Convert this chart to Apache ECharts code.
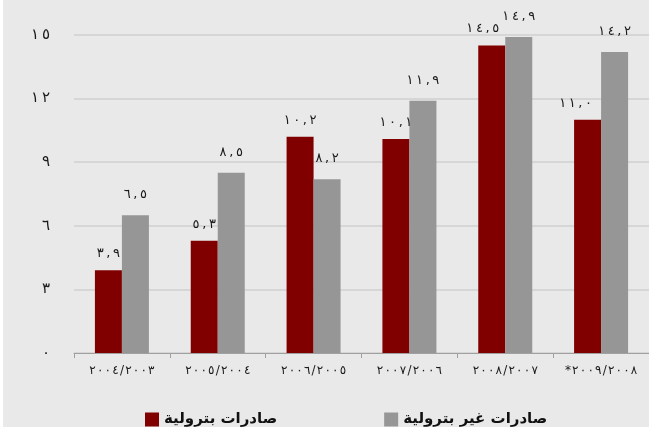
<!DOCTYPE html>
<html>
<head>
<meta charset="utf-8">
<script src="https://cdn.jsdelivr.net/npm/echarts@6/dist/echarts.min.js"></script>
<style>
  html, body { margin: 0; padding: 0; background: #ffffff; }
  #chart { position: absolute; left: 3px; top: 0; width: 646px; height: 427px; }
</style>
</head>
<body>
<div id="chart"></div>
<script>
// Data
var categories = ['٢٠٠٤/٢٠٠٣', '٢٠٠٥/٢٠٠٤', '٢٠٠٦/٢٠٠٥', '٢٠٠٧/٢٠٠٦', '٢٠٠٨/٢٠٠٧', '*٢٠٠٩/٢٠٠٨'];
var petroleumExports = [3.9, 5.3, 10.2, 10.1, 14.5, 11.0];
var nonPetroleumExports = [6.5, 8.5, 8.2, 11.9, 14.9, 14.2];
var seriesNames = ['صادرات بترولية', 'صادرات غير بترولية'];
var yTicks = [0, 3, 6, 9, 12, 15];

var LRM = '\u200E', HAIR = '\u200A', THIN = '\u2009';
function toArabicDigits(str) {
  var d = ['٠','١','٢','٣','٤','٥','٦','٧','٨','٩'];
  return String(str).replace(/[0-9]/g, function (c) { return d[+c]; }).replace('.', ',');
}
// insert spacing while keeping left-to-right visual order
function spaced(s, sp) { return LRM + s.split('').join(LRM + sp + LRM) + LRM; }
function fmtVal(v) { return spaced(toArabicDigits(v.toFixed(1)), THIN); }

// label nudges for overlapping labels (style only)
var petroLabelShift = { 4: -9, 5: -12 };

var chart = echarts.init(document.getElementById('chart'));
var labelBase = {
  show: true,
  position: 'top',
  distance: 10,
  color: '#1a1a1a',
  fontFamily: 'DejaVu Sans',
  fontSize: 13,
  formatter: function (p) { return fmtVal(p.value); }
};
var petroData = petroleumExports.map(function (v, i) {
  var item = { value: v };
  if (petroLabelShift[i] !== undefined) item.label = { offset: [petroLabelShift[i], 0] };
  return item;
});
chart.setOption({
  backgroundColor: '#e9e9e9',
  animation: false,
  grid: { left: 71, top: 35, width: 577, height: 318 },
  legend: {
    left: 137,
    top: 407,
    itemWidth: 14,
    itemHeight: 14,
    itemGap: 107,
    icon: 'rect',
    textStyle: { fontFamily: 'DejaVu Sans', fontWeight: 'bold', fontSize: 15, color: '#111' },
    data: seriesNames
  },
  xAxis: {
    type: 'category',
    data: categories,
    axisLine: { lineStyle: { color: '#a0a0a0', width: 1 } },
    axisTick: { show: true, length: 5, lineStyle: { color: '#a0a0a0' } },
    axisLabel: {
      color: '#1a1a1a', fontFamily: 'DejaVu Sans', fontSize: 12, margin: 12, interval: 0,
      formatter: function (v) { return spaced(v, HAIR); }
    }
  },
  yAxis: {
    type: 'value',
    min: 0,
    max: 15,
    interval: 3,
    axisLine: { show: false },
    axisTick: { show: false },
    splitLine: { lineStyle: { color: '#cfcfcf', width: 1.5 } },
    axisLabel: {
      color: '#1a1a1a', fontFamily: 'DejaVu Sans', fontSize: 15, margin: 24,
      formatter: function (v) { return yTicks.indexOf(v) >= 0 ? spaced(toArabicDigits(v), THIN) : ''; }
    }
  },
  series: [
    {
      name: seriesNames[0],
      type: 'bar',
      data: petroData,
      barWidth: 27,
      barGap: '0%',
      itemStyle: { color: '#800000' },
      label: labelBase
    },
    {
      name: seriesNames[1],
      type: 'bar',
      data: nonPetroleumExports,
      barWidth: 27,
      barGap: '0%',
      itemStyle: { color: '#969696' },
      label: Object.assign({}, labelBase, { distance: 14 })
    }
  ]
});
</script>
</body>
</html>
